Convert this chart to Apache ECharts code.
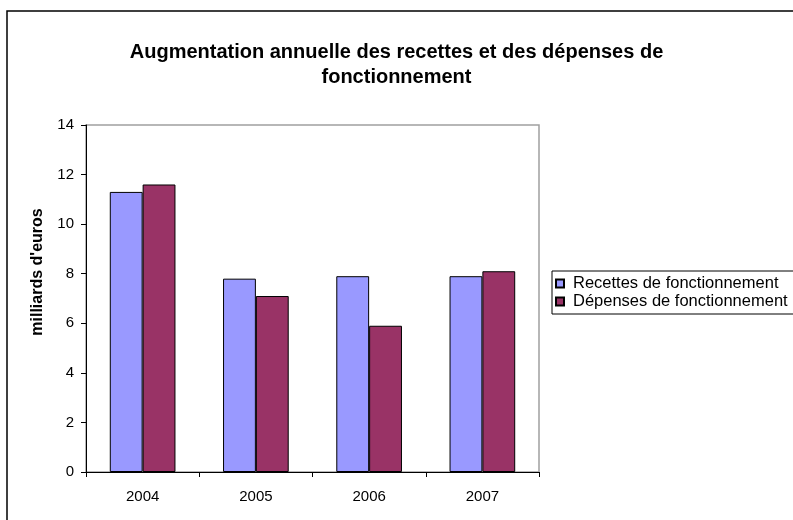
<!DOCTYPE html>
<html>
<head>
<meta charset="utf-8">
<script src="https://cdn.jsdelivr.net/npm/echarts@6/dist/echarts.min.js"></script>
<style>
  html, body { margin: 0; padding: 0; background: #fff; }
  #chart { width: 793px; height: 520px; }
</style>
</head>
<body>
<div id="chart"></div>
<script>
// données
var years = ['2004', '2005', '2006', '2007']
var recettes = [11.3, 7.8, 7.9, 7.9]
var depenses = [11.6, 7.1, 5.9, 8.1]
var seriesNames = ['Recettes de fonctionnement', 'Dépenses de fonctionnement']
var titleText = 'Augmentation annuelle des recettes et des dépenses de\nfonctionnement'
var yAxisTitle = "milliards d'euros"

var font = 'Liberation Sans, Arial, sans-serif'
var chart = echarts.init(document.getElementById('chart'))

var option = {
  animation: false,
  textStyle: { fontFamily: font },
  title: {
    text: titleText,
    left: 'center',
    top: 35,
    textStyle: {
      fontFamily: font,
      fontWeight: 'bold',
      fontSize: 20,
      lineHeight: 25,
      color: '#000'
    }
  },
  legend: {
    orient: 'vertical',
    left: 552,
    top: 271,
    padding: [4, 12, 4, 3],
    itemWidth: 8,
    itemHeight: 8,
    itemGap: 1,
    borderColor: '#000',
    borderWidth: 1,
    icon: 'rect',
    data: seriesNames,
    textStyle: { fontFamily: font, fontSize: 16.5, color: '#000', padding: [0, 0, 0, 4] }
  },
  grid: {
    left: 86,
    right: 254,
    top: 125,
    bottom: 48,
    show: true,
    borderColor: '#a0a0a0',
    borderWidth: 1.5,
    backgroundColor: '#fff'
  },
  xAxis: {
    type: 'category',
    data: years,
    axisLine: { lineStyle: { color: '#000', width: 1 } },
    axisTick: { show: true, length: 5, lineStyle: { color: '#000' } },
    axisLabel: { color: '#000', fontSize: 15, margin: 17 }
  },
  yAxis: {
    type: 'value',
    min: 0,
    max: 14,
    interval: 2,
    splitLine: { show: false },
    axisLine: { show: true, lineStyle: { color: '#000', width: 1 } },
    axisTick: { show: true, length: 5, lineStyle: { color: '#000' } },
    axisLabel: { color: '#000', fontSize: 15, margin: 12 }
  },
  graphic: [
    {
      type: 'rect',
      shape: { x: 7, y: 11, width: 800, height: 520 },
      style: { fill: 'none', stroke: '#000', lineWidth: 1.5 },
      z: -10
    },
    {
      type: 'text',
      x: 38,
      y: 272,
      rotation: Math.PI / 2,
      style: {
        text: yAxisTitle,
        fontFamily: font,
        fontWeight: 'bold',
        fontSize: 16,
        fill: '#000',
        textAlign: 'center',
        textVerticalAlign: 'middle'
      }
    }
  ],
  series: [
    {
      name: seriesNames[0],
      type: 'bar',
      data: recettes,
      barGap: '0%',
      barCategoryGap: '42%',
      itemStyle: { color: '#9999ff', borderColor: '#000', borderWidth: 1 }
    },
    {
      name: seriesNames[1],
      type: 'bar',
      data: depenses,
      itemStyle: { color: '#993366', borderColor: '#000', borderWidth: 1 }
    }
  ]
}

chart.setOption(option)
</script>
</body>
</html>
